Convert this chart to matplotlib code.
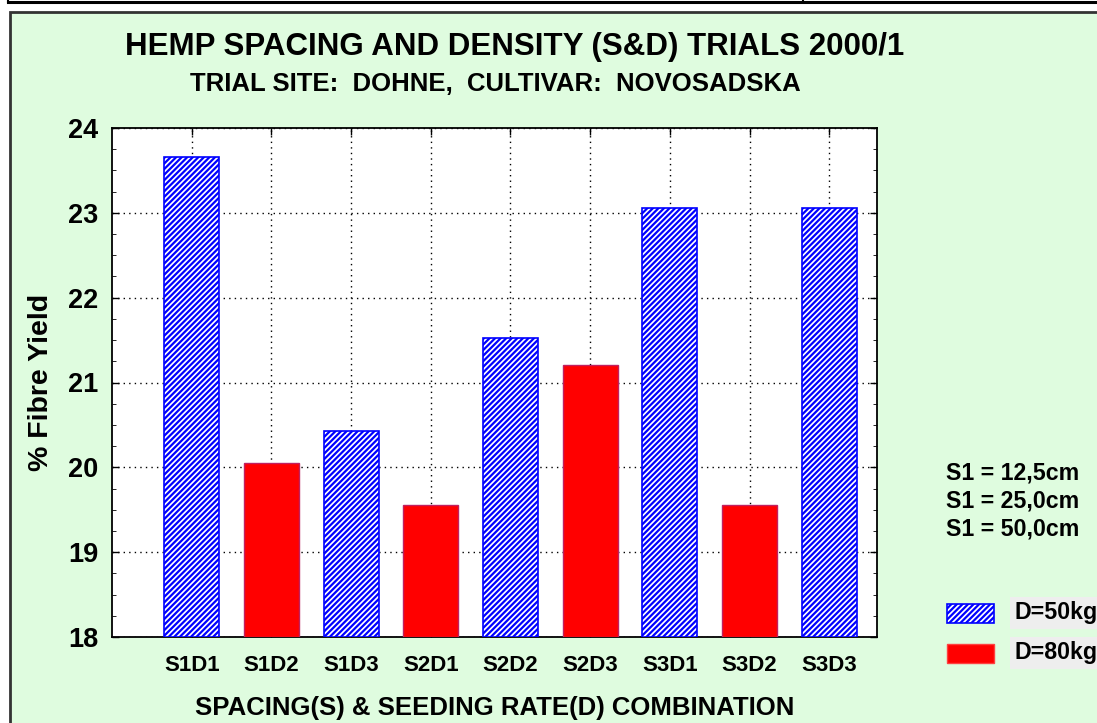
import numpy as np
import matplotlib
matplotlib.use("Agg")
import matplotlib.pyplot as plt
from matplotlib.patches import Rectangle
from matplotlib.lines import Line2D
from matplotlib.ticker import MultipleLocator

# data
combos = ["S1D1", "S1D2", "S1D3", "S2D1", "S2D2", "S2D3", "S3D1", "S3D2", "S3D3"]
fibre_yield = [23.66, 20.05, 20.43, 19.56, 21.53, 21.21, 23.06, 19.56, 23.06]
seed_rate = ["D=50kg", "D=80kg", "D=50kg", "D=80kg", "D=50kg", "D=80kg", "D=50kg", "D=80kg", "D=50kg"]
spacing_notes = ["S1 = 12,5cm", "S1 = 25,0cm", "S1 = 50,0cm"]
legend_labels = ["D=50kg", "D=80kg"]

plt.rcParams['font.family'] = ['Liberation Sans', 'DejaVu Sans']
plt.rcParams['font.weight'] = 'bold'
plt.rcParams['hatch.linewidth'] = 1.6
plt.rcParams['hatch.color'] = '#0000ff'

fig = plt.figure(figsize=(10.97, 7.23), dpi=100)
W, H = 1097.0, 723.0

# top strip + green panel
fig.add_artist(Line2D([8 / W, 1], [1 - 2 / H, 1 - 2 / H], color='black', lw=2.2))
fig.add_artist(Line2D([8 / W, 8 / W], [1 - 2 / H, 1], color='black', lw=1.5))
fig.add_artist(Line2D([803 / W, 803 / W], [1 - 2 / H, 1], color='black', lw=1.5))
fig.add_artist(Rectangle((10 / W, -0.01), 1.1, 1 - 12 / H + 0.01, facecolor='#dffcdf',
                         edgecolor='#333333', lw=2, transform=fig.transFigure, zorder=0))

ax = fig.add_axes([112 / W, 1 - 637 / H, (877 - 112) / W, (637 - 128) / H])
ax.set_facecolor('white')

x = np.arange(len(combos))
for i in range(len(combos)):
    if seed_rate[i] == "D=50kg":
        ax.bar(x[i], fibre_yield[i] - 18, bottom=18, width=0.69, facecolor='white',
               edgecolor='#0000ff', hatch='//////', lw=1.2, zorder=3)
    else:
        ax.bar(x[i], fibre_yield[i] - 18, bottom=18, width=0.69, facecolor='#ff0000',
               edgecolor='#c02060', lw=1.0, zorder=3)

ax.set_xlim(-1, 8.6)
ax.set_ylim(18, 24)
ax.set_xticks(x)
ax.set_xticklabels(combos, fontsize=16, fontweight='bold')
ax.yaxis.set_major_locator(MultipleLocator(1))
ax.yaxis.set_minor_locator(MultipleLocator(0.25))
ax.tick_params(axis='both', direction='in', top=True, right=True, length=5, width=1)
ax.tick_params(axis='y', which='minor', direction='in', right=True, length=3)
ax.tick_params(axis='y', labelsize=19.5, pad=10)
ax.tick_params(axis='x', pad=13)
for lab in ax.get_yticklabels():
    lab.set_fontweight('bold')
ax.grid(True, which='major', color='black', linestyle=(0, (1, 3)), lw=1.0, zorder=1)
for s in ax.spines.values():
    s.set_linewidth(1.3)

ax.set_ylabel("% Fibre Yield", fontsize=20.5, fontweight='bold', labelpad=10)
ax.set_xlabel("SPACING(S) & SEEDING RATE(D) COMBINATION", fontsize=18.5, fontweight='bold', labelpad=14)

fig.text(515 / W, 1 - 47 / H, "HEMP SPACING AND DENSITY (S&D) TRIALS 2000/1",
         ha='center', va='center', fontsize=22.5, fontweight='bold')
fig.text(495 / W, 1 - 84 / H, "TRIAL SITE:  DOHNE,  CULTIVAR:  NOVOSADSKA",
         ha='center', va='center', fontsize=18.5, fontweight='bold')

for i, note in enumerate(spacing_notes):
    fig.text(946 / W, 1 - (473 + 28 * i) / H, note, ha='left', va='center',
             fontsize=16.7, fontweight='bold')

# legend keys
fig.add_artist(Rectangle((947 / W, 1 - 623 / H), 47 / W, 19 / H, facecolor='white',
                         edgecolor='#0000ff', hatch='//////', lw=1.2, transform=fig.transFigure))
fig.add_artist(Rectangle((947 / W, 1 - 663 / H), 47 / W, 19 / H, facecolor='#ff0000',
                         edgecolor='#ff4040', lw=1.0, transform=fig.transFigure))
fig.text(1014 / W, 1 - 613 / H, legend_labels[0], ha='left', va='center', fontsize=16.7,
         fontweight='bold', bbox=dict(facecolor='#eeeeee', edgecolor='none', pad=3))
fig.text(1014 / W, 1 - 653 / H, legend_labels[1], ha='left', va='center', fontsize=16.7,
         fontweight='bold', bbox=dict(facecolor='#eeeeee', edgecolor='none', pad=3))

fig.savefig("out.png", dpi=100)
